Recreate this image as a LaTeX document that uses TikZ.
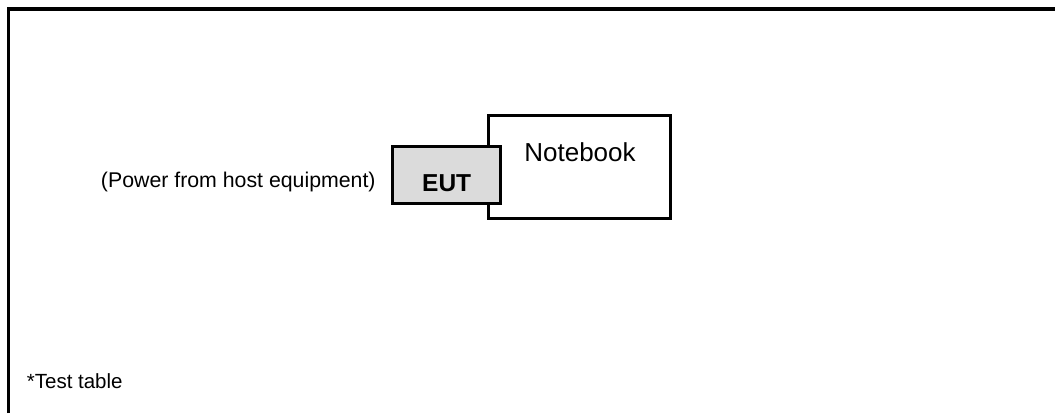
\documentclass[tikz,border=0pt]{standalone}
\usepackage{fontspec}
\setmainfont{Liberation Sans}
\usepackage{tikz}
\usetikzlibrary{calc,positioning}
\tikzset{
  box/.style={draw=black, line width=3pt, inner sep=0pt},
  caption/.style={inner sep=0pt, anchor=base}
}

\begin{document}
\begin{tikzpicture}[x=1pt, y=-1pt]
			%%%%% START %%%%%
			
			\useasboundingbox (0, 0) rectangle (1055, 413);
			
			\draw[line width=3.5pt] (8.5, 413) -- (8.5, 9) -- (1055, 9);
			
			\node[box, fill=white, minimum width=182pt, minimum height=103pt] (notebook) at (579, 166.5) {};
			\node[caption, font=\fontsize{26}{30}\selectfont] (nbtext) at (580, 161.7) {Notebook};
			
			\node[box, fill=black!14, minimum width=108pt, minimum height=57pt] (eut) at (446.7, 175.4) {};
			\node[caption, font=\fontsize{24.5}{28}\selectfont\bfseries] (euttext) at (446.7, 191.7) {EUT};
			
			\node[caption, font=\fontsize{21.3}{25}\selectfont] (power) at (238.3, 187.8) {(Power from host equipment)};
			
			\node[caption, font=\fontsize{20.5}{24}\selectfont, anchor=base west] (table) at (26.7, 388) {*Test table};
			
			%%%%% END %%%%%
\end{tikzpicture}
\end{document}
